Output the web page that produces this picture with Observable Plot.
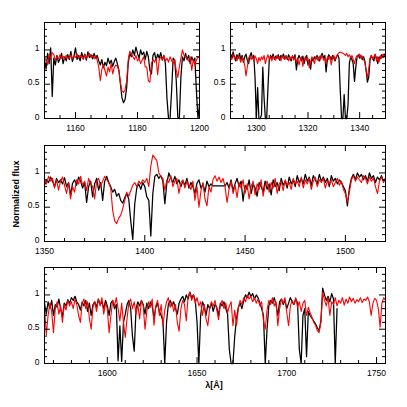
<!DOCTYPE html>
<html><head><meta charset="utf-8">
<script src="https://cdn.jsdelivr.net/npm/d3@7"></script>
<script src="https://cdn.jsdelivr.net/npm/@observablehq/plot@0.6"></script>
<style>
html,body{margin:0;padding:0;background:#fff;}
#chart{position:relative;width:407px;height:407px;overflow:hidden;font-family:"Liberation Sans",Arial,sans-serif;background:#fff;}
#chart svg{position:absolute;}
.lbl{position:absolute;font-size:9px;font-weight:bold;color:#000;white-space:nowrap;line-height:1;}
</style></head><body><div id="chart"></div><script>
// Panel 1: 1150-1200 Å, step 0.5 Å (flux x100)
const p1Start = 1150, p1Step = 0.5;
const p1Black = [85,72,95,80,103,32,88,78,92,82, 87,95,80,90,84,93,86,98,83,91, 103,86,92,84,96,88,94,85,97,89, 93,87,95,88,92,84,78,86,74,82, 77,88,80,85,76,83,88,80,70,50, 30,23,28,45,80,95,90,100,92,104, 95,88,100,93,97,86,98,90,70,65, 92,96,85,94,88,96,85,92,80,30, 0,0,40,88,85,55,2,0,60,90, 84,95,86,92,80,90,84,88,40,0, 20];
const p1Red = [90,85,78,94,88,96,93,85,90,87, 93,88,91,86,92,89,88,93,87,91, 89,94,88,92,90,86,93,88,91,95, 89,92,87,91,85,75,55,72,78,70, 62,75,68,80,65,74,78,76,70,52, 40,38,42,55,85,98,94,90,86,92, 84,88,80,85,90,75,75,55,53,80, 86,82,88,64,85,90,86,92,84,88, 82,90,85,80,86,70,60,75,88,100, 92,90,88,84,90,70,86,78,85,90, 88];
// Panel 2: 1290-1350 Å, step 0.5 Å
const p2Start = 1290, p2Step = 0.5;
const p2Black = [95,88,97,90,84,93,88,95,86,92, 82,90,94,85,80,90,96,88,92,60, 0,45,0,0,5,75,30,0,0,45, 85,92,88,94,86,91,88,93,85,92, 89,94,87,91,86,93,88,84,91,87, 93,71,86,92,88,84,91,80,88,92, 78,86,72,88,84,90,86,92,88,84, 91,95,88,92,68,86,93,90,86,92, 88,84,90,93,88,40,0,0,35,0, 0,20,80,90,86,80,54,75,90,93, 88,92,86,90,84,70,53,60,85,92, 88,84,93,88,80,90,87,93,89,94, 90];
const p2Red = [92,86,94,88,90,84,92,88,82,90, 86,78,62,75,88,92,86,90,84,91, 87,80,89,84,90,86,92,80,88,93, 86,90,84,91,88,85,92,87,90,84, 91,88,86,92,89,84,90,87,92,85, 90,82,88,78,86,90,76,86,90,84, 88,74,82,90,86,80,90,88,84,91, 87,92,85,88,80,90,86,91,78,88, 92,86,90,94,96,97,96,95,94,92, 95,90,93,88,92,86,80,88,92,90, 94,88,91,86,82,70,60,72,88,92, 86,90,94,84,90,82,92,88,94,90, 92];
// Panel 3: 1350-1520 Å, step 1 Å
const p3Start = 1350, p3Step = 1;
const p3Black = [82,90,86,94,88,80,92,86,90,84, 93,80,86,68,85,90,82,94,88,78, 86,57,80,88,65,84,92,75,86,60, 88,95,86,80,72,76,66,70,60,56, 64,70,62,30,3,55,78,84,76,86, 80,65,60,8,70,95,98,92,96,88, 55,85,100,92,86,95,84,90,80,88, 82,92,78,86,80,70,85,90,78,84, 72,88,80,84,81,81,81,81,81,81, 81,86,78,90,74,84,92,80,88,59, 82,76,90,70,84,78,66,86,80,72, 88,76,84,68,90,80,86,74,92,82, 88,78,94,84,90,80,96,86,92,84, 98,88,94,82,96,90,84,98,88,94, 86,92,80,96,88,92,84,90,86,80, 74,52,78,92,98,90,100,94,98,90, 96,88,100,92,96,86,94,90,96,88, 92];
const p3Red = [90,84,95,88,92,78,90,75,88,94, 82,70,86,62,80,72,90,84,95,82, 88,74,92,84,80,62,88,92,80,88, 95,90,86,78,45,30,26,34,38,48, 60,72,66,74,82,86,80,88,84,90, 86,92,80,110,126,122,118,100,95,92, 75,90,86,96,80,88,92,70,86,90, 78,88,82,76,88,60,80,50,74,86, 62,52,80,72,90,96,88,94,86,92, 80,57,76,88,70,82,64,86,78,90, 70,84,62,80,88,68,84,76,90,66, 82,88,72,86,78,92,70,84,88,74, 90,82,86,76,92,84,88,80,94,78, 90,84,92,76,88,94,80,90,86,92, 78,88,84,90,80,86,92,82,88,76, 70,58,72,90,96,88,94,90,86,96, 92,84,94,88,92,80,70,88,94,86, 90];
// Panel 4: 1565-1755 Å, step 1 Å (black ends at 1728 Å)
const p4Start = 1565, p4Step = 1;
const p4Black = [88,72,90,80,92,70,86,82,94,80, 68,88,84,93,88,96,92,98,90,86, 78,90,84,92,76,88,70,86,90,82, 94,86,90,80,92,84,70,88,92,80, 86,4,55,3,60,72,86,92,80,40, 18,80,90,84,92,86,72,88,80,90, 84,66,82,88,76,70,62,0,60,86, 92,84,90,80,72,88,94,98,90,100, 94,104,96,100,92,60,0,70,90,84, 70,86,80,88,76,86,82,70,88,84, 90,80,72,20,0,0,40,66,82,88, 80,92,100,96,104,98,102,94,100,96, 88,80,70,0,50,84,92,88,96,86, 70,90,94,86,92,80,88,96,90,86, 94,88,20,0,70,80,10,76,70,66, 62,58,52,48,62,110,100,92,98,90, 102,94,0,80];
const p4Red = [82,42,70,88,76,45,80,90,72,84, 60,86,78,92,84,90,80,94,86,70, 60,88,94,80,90,66,50,82,90,76, 94,84,96,72,88,80,45,70,92,84, 96,80,62,88,60,38,66,88,94,80, 90,72,86,65,92,84,50,76,90,82, 94,56,84,92,70,86,55,78,90,96, 82,90,76,86,60,47,80,92,86,62, 98,104,92,100,88,96,84,90,70,86, 65,55,80,90,84,92,78,64,86,92, 80,88,74,84,90,55,78,56,80,92, 86,96,90,100,94,98,90,96,88,94, 84,90,62,50,78,92,86,96,84,90, 55,80,94,88,96,74,55,84,92,86, 96,82,90,76,88,92,70,82,74,68, 60,56,48,45,60,104,92,84,96,70, 90,86,96,84,92,88,96,85,94,88, 97,90,95,88,93,90,96,89,94,92, 97,90,70,88,95,92,80,53,88,96, 92];

// Tick labels
const p1Ticks = [1160, 1180, 1200];
const p2Ticks = [1300, 1320, 1340];
const p3Ticks = [1350, 1400, 1450, 1500];
const p4Ticks = [1600, 1650, 1700, 1750];
const yTicks = [0, 0.5, 1];

const toRows = (arr, start, step) => arr.map((v, i) => ({w: start + i * step, f: v / 100}));

const chart = document.getElementById("chart");
const FONT = "'Liberation Sans', Arial, sans-serif";

function panel(cfg) {
  const ML = 32, MR = 8, MT = 6, MB = 20;
  const W = cfg.w, H = cfg.h;
  const xMinor = d3.range(Math.ceil(cfg.x0 / cfg.minor) * cfg.minor, cfg.x1 + 1e-9, cfg.minor)
    .filter(v => !cfg.ticks.includes(v) && v > cfg.x0 && v < cfg.x1);
  const yMinor = d3.range(1, 14).map(v => v / 10).filter(v => v !== 0.5 && v !== 1);
  const yMajor = yTicks.filter(v => v > 0);
  const xMajor = cfg.ticks.filter(v => v > cfg.x0 && v < cfg.x1);
  const svg = Plot.plot({
    width: W + ML + MR,
    height: H + MT + MB,
    marginLeft: ML, marginRight: MR, marginTop: MT, marginBottom: MB,
    x: {domain: [cfg.x0, cfg.x1]},
    y: {domain: [0, 1.4]},
    style: {fontSize: "8.5px", fontFamily: FONT, background: "transparent", overflow: "visible", color: "#000"},
    marks: [
      Plot.line(cfg.black, {x: "w", y: "f", stroke: "#000", strokeWidth: 1.25}),
      Plot.line(cfg.red, {x: "w", y: "f", stroke: "#ff0000", strokeWidth: 1.1}),
      Plot.ruleX(xMinor, {x: d => d, insetTop: H - 3, stroke: "#000"}),
      Plot.ruleX(xMinor, {x: d => d, insetBottom: H - 3, stroke: "#000"}),
      Plot.ruleX(xMajor, {x: d => d, insetTop: H - 6, stroke: "#000"}),
      Plot.ruleX(xMajor, {x: d => d, insetBottom: H - 6, stroke: "#000"}),
      Plot.ruleY(yMinor, {y: d => d, insetRight: W - 3, stroke: "#000"}),
      Plot.ruleY(yMinor, {y: d => d, insetLeft: W - 3, stroke: "#000"}),
      Plot.ruleY(yMajor, {y: d => d, insetRight: W - 6, stroke: "#000"}),
      Plot.ruleY(yMajor, {y: d => d, insetLeft: W - 6, stroke: "#000"}),
      Plot.frame({stroke: "#000", strokeWidth: 1}),
      Plot.axisX(cfg.ticks, {tickSize: 0, tickPadding: 6, tickFormat: d => String(d), label: null, fill: "#000"}),
      Plot.axisY(yTicks, {tickSize: 0, tickPadding: 5, dy: -1.5, tickFormat: d => String(d), label: null, fill: "#000"})
    ]
  });
  svg.style.left = (cfg.left - ML) + "px";
  svg.style.top = (cfg.top - MT) + "px";
  chart.appendChild(svg);
}

panel({x0: 1150, x1: 1200, left: 44, top: 22, w: 155, h: 96, minor: 5, ticks: p1Ticks,
  black: toRows(p1Black, p1Start, p1Step), red: toRows(p1Red, p1Start, p1Step)});
panel({x0: 1290, x1: 1350, left: 230, top: 22, w: 155, h: 96, minor: 5, ticks: p2Ticks,
  black: toRows(p2Black, p2Start, p2Step), red: toRows(p2Red, p2Start, p2Step)});
panel({x0: 1350, x1: 1520, left: 44, top: 145, w: 341, h: 96, minor: 10, ticks: p3Ticks,
  black: toRows(p3Black, p3Start, p3Step), red: toRows(p3Red, p3Start, p3Step)});
panel({x0: 1565, x1: 1755, left: 44, top: 267, w: 341, h: 96, minor: 10, ticks: p4Ticks,
  black: toRows(p4Black, p4Start, p4Step), red: toRows(p4Red, p4Start, p4Step)});

const yl = document.createElement("div");
yl.className = "lbl";
yl.textContent = "Normalized  flux";
yl.style.left = "16px"; yl.style.top = "194px";
yl.style.transform = "translate(-50%,-50%) rotate(-90deg)";
chart.appendChild(yl);

const xl = document.createElement("div");
xl.className = "lbl";
xl.textContent = "λ[Å]";
xl.style.left = "214px"; xl.style.top = "385px";
xl.style.transform = "translate(-50%,-50%)";
chart.appendChild(xl);
</script></body></html>
